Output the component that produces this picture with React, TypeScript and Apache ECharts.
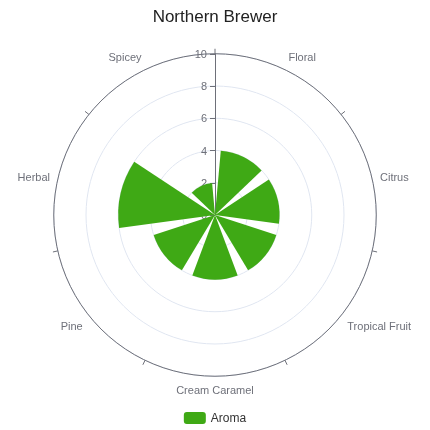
import React, { useEffect, useRef } from 'react';
import * as echarts from 'echarts';

const categories = ['Floral', 'Citrus', 'Tropical Fruit', 'Cream Caramel', 'Pine', 'Herbal', 'Spicey'];
const aromaValues = [4, 4, 4, 4, 4, 6, 2];
const seriesName = 'Aroma';
const chartTitle = 'Northern Brewer';

const App: React.FC = () => {
  const chartRef = useRef<HTMLDivElement>(null);

  useEffect(() => {
    if (chartRef.current) {
      const chart = echarts.init(chartRef.current, undefined, { renderer: 'svg' });

      const option: echarts.EChartsOption = {
        animation: false,
        title: {
          text: chartTitle,
          left: 'center',
          top: 3,
          textStyle: { fontSize: 17, fontWeight: 'normal', color: '#222' }
        },
        legend: {
          bottom: 1,
          left: 'center',
          itemWidth: 22,
          itemHeight: 12,
          textStyle: { color: '#333', fontSize: 12 },
          data: [seriesName]
        },
        polar: {
          center: ['50%', '50%'],
          radius: '75%'
        },
        angleAxis: {
          type: 'category',
          data: categories,
          startAngle: 90,
          axisLine: { lineStyle: { color: '#6E7079' } },
          axisTick: { show: true },
          axisLabel: { color: '#6E7079', fontSize: 11 },
          splitLine: { show: false }
        },
        radiusAxis: {
          type: 'value',
          min: 0,
          max: 10,
          interval: 2,
          axisLine: { lineStyle: { color: '#6E7079' } },
          axisLabel: { color: '#6E7079', fontSize: 11 },
          splitLine: { show: true, lineStyle: { color: '#E0E6F1' } }
        },
        series: [
          {
            name: seriesName,
            type: 'bar',
            coordinateSystem: 'polar',
            data: aromaValues,
            itemStyle: { color: '#3FA915' }
          }
        ]
      };

      chart.setOption(option);

      return () => {
        chart.dispose();
      };
    }
  }, []);

  return (
    <div
      ref={chartRef}
      style={{ position: 'fixed', left: 0, top: 0, width: 430, height: 430 }}
    />
  );
};

export default App;
